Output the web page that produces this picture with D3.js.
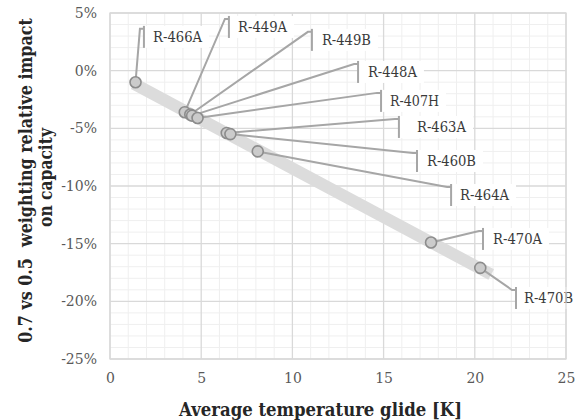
<!DOCTYPE html>
<html><head><meta charset="utf-8">
<script src="https://cdn.jsdelivr.net/npm/d3@7"></script>
<style>body{margin:0;background:#fff}svg{display:block}</style>
</head><body>
<svg id="c" width="575" height="420"></svg>
<script>
// ---- data ----
const names = ["R-466A","R-449A","R-449B","R-448A","R-407H","R-463A","R-460B","R-464A","R-470A","R-470B"];
const glide = [1.4, 4.1, 4.4, 4.5, 4.8, 6.4, 6.6, 8.1, 17.6, 20.3];
const impact = [-1.0, -3.6, -3.8, -3.9, -4.1, -5.4, -5.5, -7.0, -14.9, -17.1];
// label anchors (data units): leader bar x, label centre y, text start x
const labelBarX = [1.86, 6.52, 11.07, 13.6, 14.86, 15.84, 16.83, 18.7, 20.45, 22.26];
const labelY = [2.93, 3.79, 2.67, -0.11, -2.62, -4.88, -7.83, -10.78, -14.59, -19.71];
const labelTextX = [2.36, 7.02, 11.62, 14.14, 15.35, 16.83, 17.38, 19.19, 21.0, 22.7];
const trendX = [1.3, 20.9];
const xTicks = [0, 5, 10, 15, 20, 25];
const yTicks = [5, 0, -5, -10, -15, -20, -25];
const xTitle = "Average temperature glide [K]";
const yTitle = ["0.7 vs 0.5  weighting relative impact", "on capacity"];

// ---- layout ----
const svg = d3.select("#c");
const x = d3.scaleLinear().domain([0, 25]).range([110, 566]);
const y = d3.scaleLinear().domain([-25, 5]).range([359, 13]);
const serif = "'DejaVu Serif', serif";

// linear trend fit
const mx = d3.mean(glide), my = d3.mean(impact);
const slope = d3.sum(glide.map((g, i) => (g - mx) * (impact[i] - my))) / d3.sum(glide.map(g => (g - mx) ** 2));
const icpt = my - slope * mx;

// gridlines
const g = svg.append("g");
g.append("g").selectAll("line").data(d3.range(0, 26, 1).filter(v => v % 5 !== 0)).join("line")
  .attr("x1", d => x(d)).attr("x2", d => x(d)).attr("y1", y(5)).attr("y2", y(-25))
  .attr("stroke", "#efefef").attr("stroke-width", 1);
g.append("g").selectAll("line").data(d3.range(-25, 6, 1).filter(v => v % 5 !== 0)).join("line")
  .attr("y1", d => y(d)).attr("y2", d => y(d)).attr("x1", x(0)).attr("x2", x(25))
  .attr("stroke", "#efefef").attr("stroke-width", 1);
g.append("g").selectAll("line").data(xTicks).join("line")
  .attr("x1", d => x(d)).attr("x2", d => x(d)).attr("y1", y(5)).attr("y2", y(-25))
  .attr("stroke", "#d9d9d9").attr("stroke-width", 1.3);
g.append("g").selectAll("line").data(yTicks).join("line")
  .attr("y1", d => y(d)).attr("y2", d => y(d)).attr("x1", x(0)).attr("x2", x(25))
  .attr("stroke", "#d9d9d9").attr("stroke-width", 1.3);

// axes labels via d3 axes
const xa = svg.append("g").attr("transform", `translate(0,${y(-25)})`)
  .call(d3.axisBottom(x).tickValues(xTicks).tickSize(0).tickPadding(14));
const ya = svg.append("g").attr("transform", `translate(${x(0)},0)`)
  .call(d3.axisLeft(y).tickValues(yTicks).tickSize(0).tickPadding(13).tickFormat(d => d + "%"));
[xa, ya].forEach(a => {
  a.select(".domain").remove();
  a.selectAll("text").attr("font-family", serif).attr("font-size", 14).attr("fill", "#595959");
});

// trend band
svg.append("line")
  .attr("x1", x(trendX[0])).attr("y1", y(icpt + slope * trendX[0]))
  .attr("x2", x(trendX[1])).attr("y2", y(icpt + slope * trendX[1]))
  .attr("stroke", "#dcdcdc").attr("stroke-width", 12).attr("stroke-linecap", "butt");

// label boxes + text
const lab = svg.append("g");
lab.selectAll("g").data(names).join("g").each(function (d, i) {
  const gg = d3.select(this);
  const rect = gg.append("rect");
  const t = gg.append("text").text(d)
    .attr("x", x(labelTextX[i])).attr("y", y(labelY[i]))
    .attr("dominant-baseline", "central")
    .attr("font-family", serif).attr("font-size", 14).attr("fill", "#3a3a3a")
    .attr("textLength", 49).attr("lengthAdjust", "spacingAndGlyphs");
  rect.attr("x", x(labelBarX[i])).attr("y", y(labelY[i]) - 11)
    .attr("width", Math.min(x(labelTextX[i]) + 49 + 7, 575) - x(labelBarX[i])).attr("height", 22)
    .attr("fill", "#fff");
});

// leader lines
const leaders = svg.append("g").attr("fill", "none").attr("stroke", "#a6a6a6").attr("stroke-width", 2);
names.forEach((d, i) => {
  const bx = x(labelBarX[i]), cy = y(labelY[i]);
  leaders.append("path")
    .attr("d", d3.line()([[x(glide[i]), y(impact[i])], [bx - 4, cy - 8], [bx, cy - 8]]));
  leaders.append("line").attr("x1", bx).attr("x2", bx).attr("y1", cy - 11).attr("y2", cy + 11);
});

// points
svg.append("g").selectAll("circle").data(glide).join("circle")
  .attr("cx", d => x(d)).attr("cy", (d, i) => y(impact[i])).attr("r", 5.5)
  .attr("fill", "#cbcbcb").attr("stroke", "#8c8c8c").attr("stroke-width", 1.6);

// plot border
svg.append("rect").attr("x", x(0)).attr("y", y(5)).attr("width", x(25) - x(0)).attr("height", y(-25) - y(5))
  .attr("fill", "none").attr("stroke", "#d9d9d9").attr("stroke-width", 1.3);

// titles: natural-size bold serif, horizontally scaled to the reference's length
function title(txt, cx, cy, rot, target) {
  const gg = svg.append("g").attr("transform", `translate(${cx},${cy}) rotate(${rot})`);
  const t = gg.append("text").text(txt)
    .attr("text-anchor", "middle").attr("dominant-baseline", "central")
    .attr("font-family", serif).attr("font-weight", "bold")
    .attr("font-size", 19).attr("fill", "#262626").style("white-space", "pre");
  const w = t.node().getComputedTextLength();
  t.attr("transform", `scale(${target / w},1)`);
}
title(xTitle, 320.5, 409, 0, 283);
title(yTitle[0], 25, 180.5, -90, 325);
title(yTitle[1], 45, 177.5, -90, 99);
</script>
</body></html>
